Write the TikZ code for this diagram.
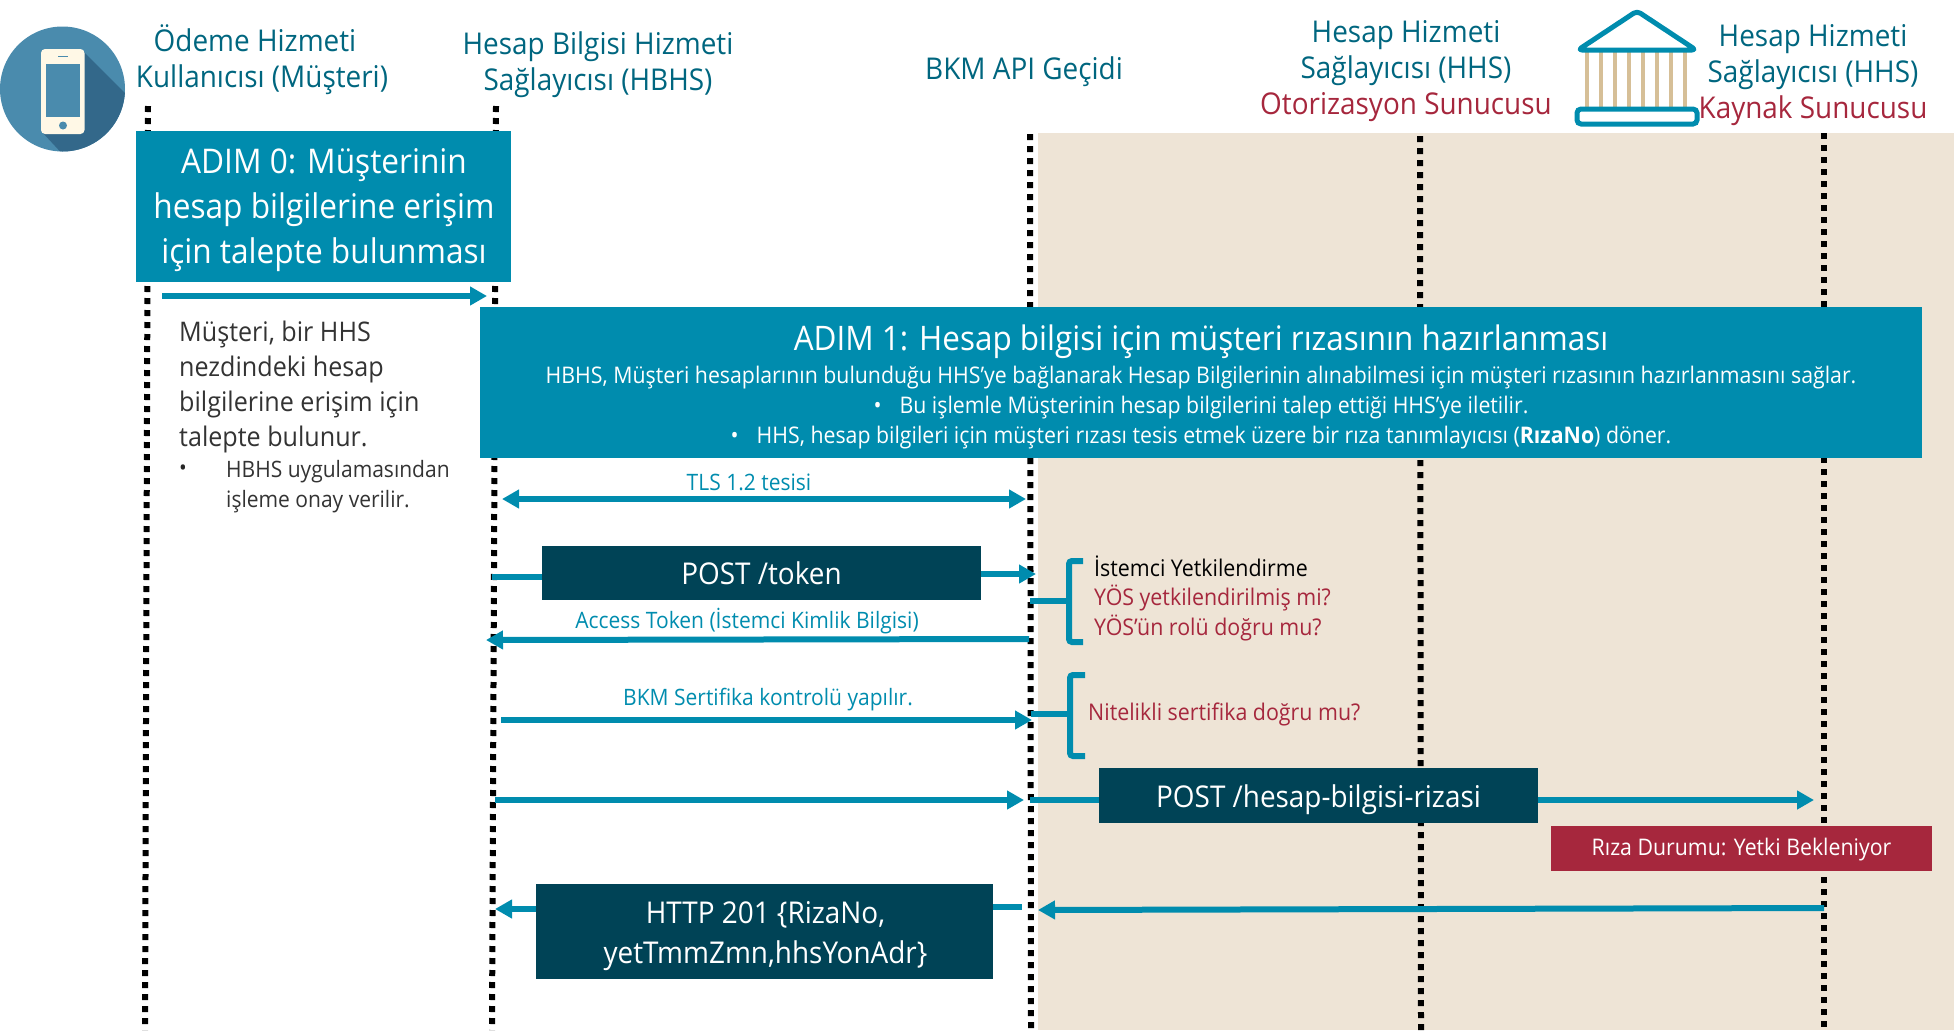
\documentclass[tikz,border=0pt]{standalone}
\usepackage{fontspec}
\setmainfont[FakeStretch=0.93]{Open Sans}
\usetikzlibrary{arrows.meta}
\definecolor{teal1}{HTML}{008CAE}
\definecolor{headc}{HTML}{00667F}
\definecolor{navy}{HTML}{004356}
\definecolor{redc}{HTML}{A6273D}
\definecolor{beige}{HTML}{EEE4D6}
\definecolor{phoneb}{HTML}{4A8BAD}
\definecolor{phoned}{HTML}{33688A}
\definecolor{phonew}{HTML}{FFF8E6}
\definecolor{colc}{HTML}{D6BF97}
\newcommand{\fs}[2]{\fontsize{#1}{#2}\selectfont}
\tikzset{
  life/.style={line width=6pt,dash pattern=on 6pt off 6pt,black},
  flow/.style={line width=6pt,teal1,-{Triangle[length=17pt,width=18pt]}},
  both/.style={line width=6pt,teal1,{Triangle[length=17pt,width=18pt]}-{Triangle[length=17pt,width=18pt]}},
  stub/.style={line width=6pt,teal1},
  brace/.style={line width=6pt,teal1,rounded corners=3pt},
  head/.style={text=headc,align=center,inner sep=0pt,font=\fs{30}{36}},
  stepbox/.style={fill=teal1,text=white,align=center,inner sep=0pt},
  msgbox/.style={fill=navy,text=white,align=center,inner sep=0pt,font=\fs{30}{40}},
  lab/.style={text=teal1,inner sep=0pt,font=\fs{22.6}{26}},
  rednote/.style={text=redc,inner sep=0pt,anchor=west,font=\fs{23}{26}},
}
\begin{document}
\begin{tikzpicture}[x=1pt,y=-1pt]
\useasboundingbox (0,0) rectangle (1954,1034);
% background
\fill[beige] (1038,133) rectangle (1954,1030);
% life lines
\coordinate (l1t) at (148,106); \coordinate (l1b) at (145,1030);
\coordinate (l2t) at (496,106); \coordinate (l2b) at (492,1030);
\coordinate (l3t) at (1030,134); \coordinate (l3b) at (1031,1030);
\coordinate (l4t) at (1420,136); \coordinate (l4b) at (1421,1030);
\coordinate (l5t) at (1824,133); \coordinate (l5b) at (1824,1030);
\draw[life] (l1t) -- (l1b);
\draw[life] (l2t) -- (l2b);
\draw[life] (l3t) -- (l3b);
\draw[life] (l4t) -- (l4b);
\draw[life] (l5t) -- (l5b);
% phone icon
\begin{scope}
\clip (62.5,89) circle (62.5);
\fill[phoneb] (0,26) rectangle (126,152);
\fill[phoned] (82,50) -- (130,98) -- (130,160) -- (68,160) -- (42,132) -- cycle;
\end{scope}
\fill[phonew,rounded corners=4pt] (41,49) rectangle (84.5,134);
\fill[phoneb] (46,63.5) rectangle (80,116.5);
\fill[phoneb] (63,125.5) circle (4);
\draw[phoneb,line width=1.3pt] (58,56.5) -- (68,56.5);
% bank icon
\foreach \cx in {1587,1601,1615,1629,1643,1657,1671,1685}
  \draw[colc,line width=4pt] (\cx,50) -- (\cx,109);
\draw[teal1,line width=5pt,line join=round,rounded corners=4pt] (1637,11) -- (1578,50) -- (1696,50) -- cycle;
\draw[teal1,line width=5pt,fill=white,rounded corners=4pt] (1577,109) rectangle (1697,124);
% headers
\node[head] (h1) at (262,60) {Ödeme Hizmeti\hspace*{14pt}\\Kullanıcısı (Müşteri)};
\node[head] (h2) at (598,65) {Hesap Bilgisi Hizmeti\\Sağlayıcısı (HBHS)};
\node[head] (h3) at (1024,72) {BKM API Geçidi};
\node[head] (h4) at (1406,71) {Hesap Hizmeti\\Sağlayıcısı (HHS)\\\textcolor{redc}{Otorizasyon Sunucusu}};
\node[head] (h5) at (1813,75) {Hesap Hizmeti\\Sağlayıcısı (HHS)\\\textcolor{redc}{Kaynak Sunucusu}};
% step boxes
\node[stepbox,minimum width=375pt,minimum height=151pt] (s0) at (323.5,206.5) {};
\node[text=white,inner sep=0pt,align=center,font=\fs{34}{45}] (s0t) at (324,210)
  {ADIM 0: Müşterinin\\hesap bilgilerine erişim\\için talepte bulunması};
\node[stepbox,minimum width=1442pt,minimum height=151pt] (s1) at (1201,382) {};
\node[text=white,inner sep=0pt,font=\fs{33.8}{40}] (s1t) at (1201,342) {ADIM 1: Hesap bilgisi için müşteri rızasının hazırlanması};
\node[text=white,inner sep=0pt,align=center,font=\fs{22.9}{30}] (s1b) at (1201,408)
  {HBHS, Müşteri hesaplarının bulunduğu HHS’ye bağlanarak Hesap Bilgilerinin alınabilmesi için müşteri rızasının hazırlanmasını sağlar.\\
   •\hspace{18pt}Bu işlemle Müşterinin hesap bilgilerini talep ettiği HHS’ye iletilir.\\
   •\hspace{18pt}HHS, hesap bilgileri için müşteri rızası tesis etmek üzere bir rıza tanımlayıcısı (\textbf{RızaNo}) döner.};
% left description
\node[inner sep=0pt,anchor=north west,align=left,text=black!80,font=\fs{27}{35}] (d1) at (179,321)
  {Müşteri, bir HHS\\nezdindeki hesap\\bilgilerine erişim için\\talepte bulunur.};
\node[inner sep=0pt,text=black!85,font=\fs{22}{26}] (d2b) at (183,470) {•};
\node[inner sep=0pt,anchor=north west,align=left,text=black!80,font=\fs{22.6}{30}] (d2) at (226,460)
  {HBHS uygulamasından\\işleme onay verilir.};
% arrow 0
\coordinate (a0s) at (162,296); \coordinate (a0e) at (487,296);
\draw[flow] (a0s) -- (a0e);
% TLS
\node[lab] (tls) at (749,482) {TLS 1.2 tesisi};
\coordinate (tlsa) at (502,499); \coordinate (tlsb) at (1026,499);
\draw[both] (tlsa) -- (tlsb);
% POST token
\node[msgbox,minimum width=439pt,minimum height=54pt] (pt) at (761.5,573) {POST /token};
\coordinate (pta) at (492,577); \coordinate (ptb) at (1036,574);
\draw[stub] (pta) -- (pta -| pt.west);
\draw[flow] (ptb -| pt.east) -- (ptb);
% access token
\node[lab] (at1) at (747,621) {Access Token (İstemci Kimlik Bilgisi)};
\coordinate (ata) at (1029,639); \coordinate (atb) at (486,640);
\draw[flow] (ata) -- (atb);
% BKM
\node[lab] (bkm) at (768,700) {BKM Sertifika kontrolü yapılır.};
\coordinate (bka) at (501,720); \coordinate (bkb) at (1032,720);
\draw[flow] (bka) -- (bkb);
% braces
\coordinate (b1a) at (1083,561); \coordinate (b1b) at (1069,561); \coordinate (b1c) at (1069,642); \coordinate (b1d) at (1083,642);
\coordinate (b1s) at (1030,601); \coordinate (b1m) at (1069,601);
\draw[brace] (b1a) -- (b1b) -- (b1c) -- (b1d);
\draw[stub] (b1s) -- (b1m);
\coordinate (b2a) at (1085,675); \coordinate (b2b) at (1070,675); \coordinate (b2c) at (1070,756); \coordinate (b2d) at (1085,756);
\coordinate (b2s) at (1031,714); \coordinate (b2m) at (1070,714);
\draw[brace] (b2a) -- (b2b) -- (b2c) -- (b2d);
\draw[stub] (b2s) -- (b2m);
\node[rednote,text=black] (c1) at (1094,566) {İstemci Yetkilendirme};
\node[rednote] (c2) at (1094,598) {YÖS yetkilendirilmiş mi?};
\node[rednote] (c3) at (1094,628) {YÖS’ün rolü doğru mu?};
\node[rednote] (c4) at (1088,714) {Nitelikli sertifika doğru mu?};
% POST hesap
\node[msgbox,minimum width=439pt,minimum height=55pt] (ph) at (1318.5,795.5) {};
\node[text=white,inner sep=0pt,font=\fs{30}{40}] (pht) at (1318.5,800) {POST /hesap-bilgisi-rizasi};
\coordinate (pha) at (495,800); \coordinate (phb) at (1024,800);
\coordinate (phc) at (1030,800); \coordinate (phd) at (1814,800);
\draw[flow] (pha) -- (phb);
\draw[stub] (phc) -- (phc -| ph.west);
\draw[flow] (phd -| ph.east) -- (phd);
% riza
\node[fill=redc,minimum width=381pt,minimum height=45pt,inner sep=0pt] (rz) at (1741.5,848) {};
\node[text=white,inner sep=0pt,font=\fs{22.9}{26}] (rzt) at (1741.5,850) {Rıza Durumu: Yetki Bekleniyor};
% HTTP
\node[msgbox,minimum width=457pt,minimum height=95pt] (ht) at (764.5,931) {};
\node[text=white,inner sep=0pt,align=center,font=\fs{30}{40}] (htt) at (765.5,936) {HTTP 201 \{RizaNo,\\yetTmmZmn,hhsYonAdr\}};
\coordinate (hta) at (495,909); \coordinate (htb) at (1022,907);
\coordinate (htc) at (1824,908); \coordinate (htd) at (1038,910);
\draw[flow] (hta -| ht.west) -- (hta);
\draw[stub] (htb -| ht.east) -- (htb);
\draw[flow] (htc) -- (htd);
\end{tikzpicture}
\end{document}
